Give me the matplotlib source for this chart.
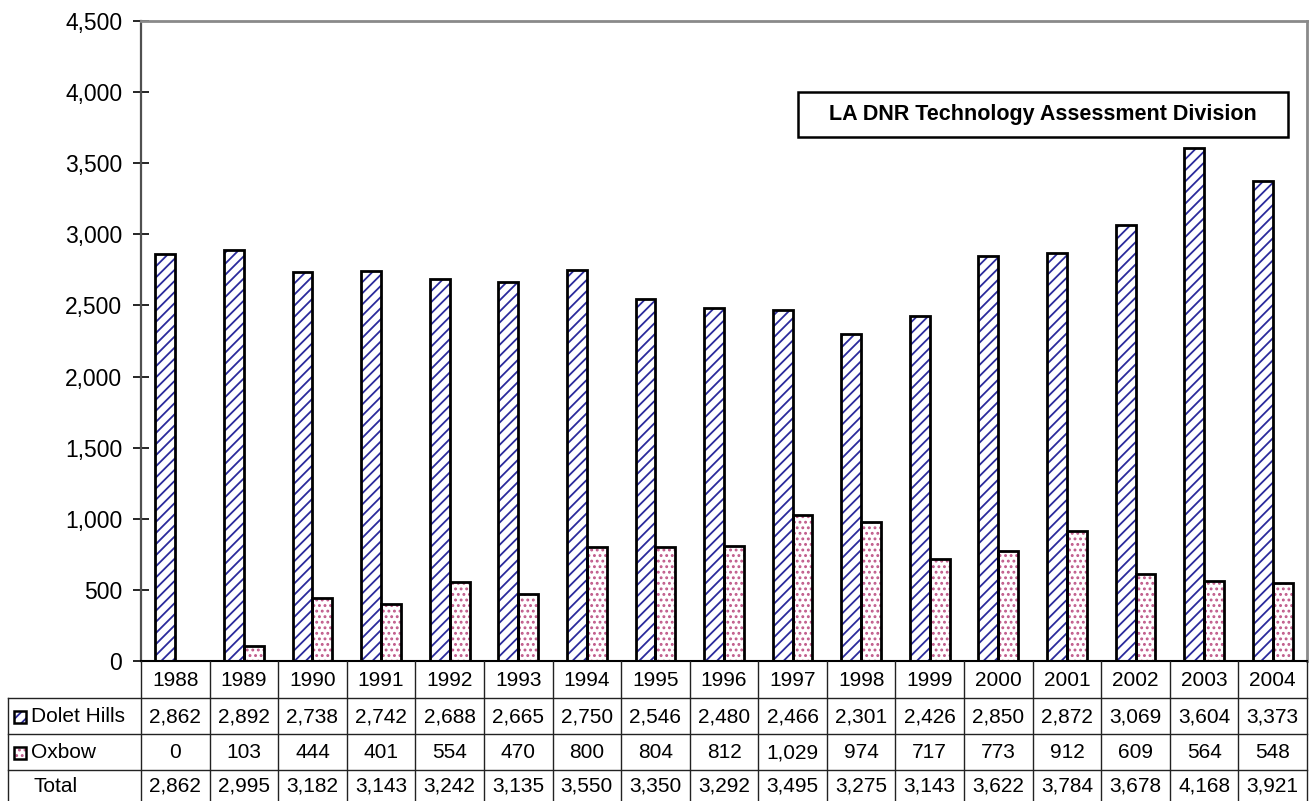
import matplotlib
matplotlib.use("Agg")
import matplotlib.pyplot as plt
from matplotlib.patches import Rectangle
from matplotlib.ticker import FuncFormatter
import numpy as np

plt.rcParams['font.family'] = ['Liberation Sans', 'DejaVu Sans']
plt.rcParams['hatch.linewidth'] = 1.3

years = ['1988', '1989', '1990', '1991', '1992', '1993', '1994', '1995', '1996',
         '1997', '1998', '1999', '2000', '2001', '2002', '2003', '2004']
dolet_hills = [2862, 2892, 2738, 2742, 2688, 2665, 2750, 2546, 2480,
               2466, 2301, 2426, 2850, 2872, 3069, 3604, 3373]
oxbow = [0, 103, 444, 401, 554, 470, 800, 804, 812,
         1029, 974, 717, 773, 912, 609, 564, 548]
total = [2862, 2995, 3182, 3143, 3242, 3135, 3550, 3350, 3292,
         3495, 3275, 3143, 3622, 3784, 3678, 4168, 3921]
series_names = ['Dolet Hills', 'Oxbow', 'Total']
yticks = [0, 500, 1000, 1500, 2000, 2500, 3000, 3500, 4000, 4500]
note = 'LA DNR Technology Assessment Division'

W, H = 1312, 801
fig = plt.figure(figsize=(W / 100, H / 100), dpi=100)

L, R, T, B = 141, 1307, 21, 661
ax = fig.add_axes([L / W, (H - B) / H, (R - L) / W, (B - T) / H])

x = np.arange(len(years))
w = 0.29
blue = '#2b2b9c'
pink = '#c05a8a'

ax.bar(x - w / 2, dolet_hills, w, facecolor='white', edgecolor=blue, hatch='///', lw=0, zorder=2)
ax.bar(x - w / 2, dolet_hills, w, fill=False, edgecolor='black', lw=2, zorder=3)
ax.bar(x + w / 2, oxbow, w, facecolor='white', edgecolor=pink, hatch='...', lw=0, zorder=2)
ax.bar(x + w / 2, oxbow, w, fill=False, edgecolor='black', lw=2, zorder=3)

ax.set_xlim(-0.5, len(years) - 0.5)
ax.set_ylim(0, 4500)
ax.set_yticks(yticks)
ax.yaxis.set_major_formatter(FuncFormatter(lambda v, p: f'{int(v):,}'))
ax.set_xticks([])
ax.tick_params(axis='y', direction='inout', length=11, width=1.2, color='black',
               labelsize=16.5, pad=8)
ax.spines['left'].set_color('#505050')
ax.spines['left'].set_linewidth(1.6)
for s in ['top', 'right']:
    ax.spines[s].set_color('#8a8a8a')
    ax.spines[s].set_linewidth(2)
ax.spines['bottom'].set_color('black')
ax.spines['bottom'].set_linewidth(1.5)

# annotation box
bx0, bx1, by0, by1 = 798, 1288, 92, 137
ax.add_patch(Rectangle(((bx0 - L) / (R - L), (B - by1) / (B - T)),
                       (bx1 - bx0) / (R - L), (by1 - by0) / (B - T),
                       transform=ax.transAxes, fill=False, edgecolor='black', lw=1.8,
                       zorder=5))
ax.text(((bx0 + bx1) / 2 - L) / (R - L), (B - (by0 + by1) / 2) / (B - T), note,
        transform=ax.transAxes, ha='center', va='center', fontsize=15.5,
        fontweight='bold', zorder=6)

# data table below
unit = (R - L) / len(years)
tab = fig.add_axes([0, 0, 1, (H - B) / H])
tab.set_xlim(-0.5 - L / unit, len(years) - 0.5 + (W - R) / unit)
tab.set_ylim(H - B, 0)
tab.axis('off')

def px(p):
    return -0.5 + (p - L) / unit

row_lines = [37, 73, 109]
row_centers = [19, 56, 92, 125]
lc = '#222222'
for i in range(len(years) + 1):
    tab.plot([i - 0.5, i - 0.5], [0, H - B], color=lc, lw=1)
for yl in row_lines:
    tab.plot([px(8), len(years) - 0.5], [yl, yl], color=lc, lw=1)
tab.plot([px(8), px(8)], [row_lines[0], H - B], color=lc, lw=1)

fs = 15
for i, yr in enumerate(years):
    tab.text(i, row_centers[0], yr, ha='center', va='center', fontsize=fs)
    tab.text(i, row_centers[1], f'{dolet_hills[i]:,}', ha='center', va='center', fontsize=fs)
    tab.text(i, row_centers[2], f'{oxbow[i]:,}', ha='center', va='center', fontsize=fs)
    tab.text(i, row_centers[3], f'{total[i]:,}', ha='center', va='center', fontsize=fs)

# row labels with legend swatches
sq = 12
for r, (name, col, hat) in enumerate([(series_names[0], blue, '///'),
                                       (series_names[1], pink, '...')]):
    yc = row_centers[r + 1]
    tab.add_patch(Rectangle((px(14), yc - sq / 2), sq / unit, sq, facecolor='white',
                            edgecolor=col, hatch=hat, lw=0))
    tab.add_patch(Rectangle((px(14), yc - sq / 2), sq / unit, sq, fill=False,
                            edgecolor='black', lw=1.8))
    tab.text(px(31), yc, name, ha='left', va='center', fontsize=fs)
tab.text(px(33), row_centers[3], series_names[2], ha='left', va='center', fontsize=fs)

fig.savefig('out.png', dpi=100)
